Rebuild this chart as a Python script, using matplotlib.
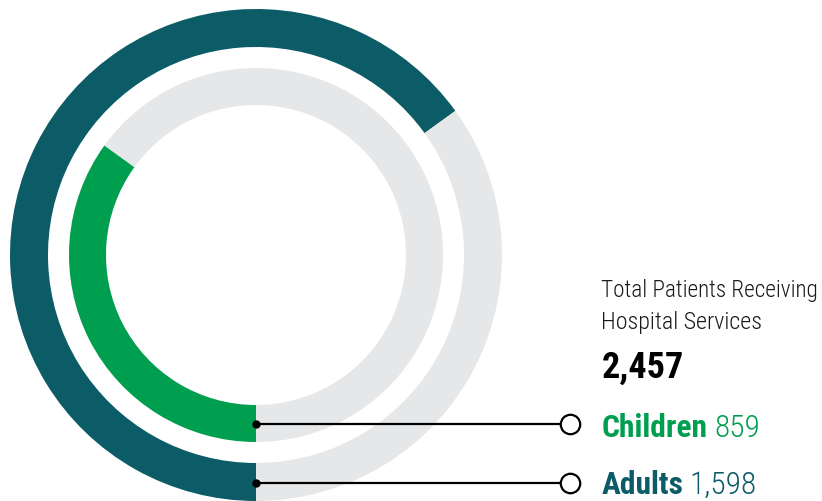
import matplotlib
matplotlib.use('Agg')
import matplotlib.pyplot as plt

TOTAL = 2457
GROUPS = ['Children', 'Adults']
COUNTS = [859, 1598]
LABELS = ['859', '1,598']

TEAL = '#0b5c66'
GREEN = '#009e4f'
GRAY = '#e6e7e8'
FONT = ['Roboto Condensed', 'Liberation Sans Narrow', 'Roboto', 'DejaVu Sans']

fig = plt.figure(figsize=(8.22, 5.02), dpi=100)
ax = fig.add_axes([0, 0, 1, 1])

# rings, drawn in pixel-like data units, y upwards
cx, cy = 256, 246
ax.pie([COUNTS[1], TOTAL - COUNTS[1]], colors=[TEAL, GRAY], radius=246,
       center=(cx, cy), startangle=-90, counterclock=False, frame=True,
       wedgeprops=dict(width=38, linewidth=0))
ax.pie([COUNTS[0], TOTAL - COUNTS[0]], colors=[GREEN, GRAY], radius=187,
       center=(cx, cy), startangle=-90, counterclock=False, frame=True,
       wedgeprops=dict(width=37, linewidth=0))

ax.set_xlim(0, 822)
ax.set_ylim(0, 502)
ax.set_aspect('equal')
ax.axis('off')

# leader lines
line_y = [cy - 169, cy - 228]
for y in line_y:
    ax.plot([cx, 570], [y, y], color='black', lw=1.6, zorder=3)
    ax.plot([cx], [y], 'o', color='black', ms=5, zorder=4)
    ax.plot([570], [y], 'o', mfc='white', mec='black', mew=1.6, ms=14, zorder=4)

fig.canvas.draw()
r = fig.canvas.get_renderer()


def put(x, y, s, width, size, **kw):
    # resize the font so the text spans the same width as in the reference
    t = ax.text(x, 502 - y, s, family=FONT, fontsize=size, va='baseline', **kw)
    w = t.get_window_extent(renderer=r).width
    t.set_fontsize(size * width / w)
    return t


put(601, 297, 'Total Patients Receiving', 218, 17, color='#1a1a1a', weight='light')
put(601, 329, 'Hospital Services', 162, 17, color='#1a1a1a', weight='light')
put(602, 378, f'{TOTAL:,}', 82, 27, weight='bold', color='black')

size = put(602, 437, GROUPS[0], 106, 22, weight='bold', color=GREEN).get_fontsize()
ax.texts[-1].remove()
for y, g, lab, col in zip([437, 494], GROUPS, LABELS, [GREEN, TEAL]):
    t = ax.text(602, 502 - y, g, family=FONT, fontsize=size, weight='bold',
                color=col, va='baseline')
    x2 = ax.transData.inverted().transform((t.get_window_extent(renderer=r).x1, 0))[0]
    ax.text(x2 + 6, 502 - y, lab, family=FONT, fontsize=size,
            weight='light', color=col, va='baseline')

fig.savefig('out.png', dpi=100)
